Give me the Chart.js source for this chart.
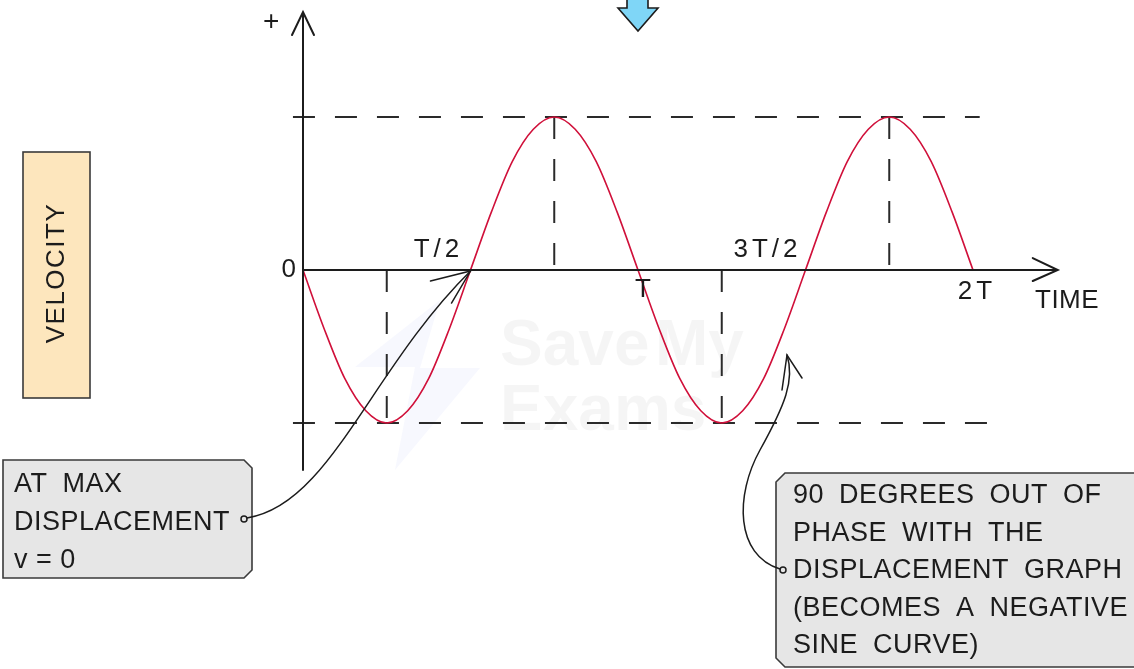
<!DOCTYPE html>
<html>
<head>
<meta charset="utf-8">
<script src="https://cdn.jsdelivr.net/npm/chart.js@4"></script>
<style>
  body { margin: 0; background: #fff; }
  #wrap { width: 1134px; height: 669px; position: relative; }
</style>
</head>
<body>
<div id="wrap"><canvas id="myChart"></canvas></div>
<script>
// time in units of the period T, velocity in units of max velocity
const timeT = [0, 0.0625, 0.125, 0.1875, 0.25, 0.3125, 0.375, 0.4375, 0.5,
  0.5625, 0.625, 0.6875, 0.75, 0.8125, 0.875, 0.9375, 1,
  1.0625, 1.125, 1.1875, 1.25, 1.3125, 1.375, 1.4375, 1.5,
  1.5625, 1.625, 1.6875, 1.75, 1.8125, 1.875, 1.9375, 2];
const velocity = [0, -0.38, -0.71, -0.92, -1, -0.92, -0.71, -0.38, 0,
  0.38, 0.71, 0.92, 1, 0.92, 0.71, 0.38, 0,
  -0.38, -0.71, -0.92, -1, -0.92, -0.71, -0.38, 0,
  0.38, 0.71, 0.92, 1, 0.92, 0.71, 0.38, 0];

const tickNames = ['0', 'T/2', 'T', '3T/2', '2T'];
const tickValues = [0, 0.5, 1, 1.5, 2];

// extremes marked with dashed guide lines
const peakTimes = [0.75, 1.75];
const troughTimes = [0.25, 1.25];

const boxLeft = ['AT MAX', 'DISPLACEMENT', 'v = 0'];
const boxRight = ['90 DEGREES OUT OF', 'PHASE WITH THE', 'DISPLACEMENT GRAPH',
  '(BECOMES A NEGATIVE', 'SINE CURVE)'];

const FONT = '"Liberation Sans", Arial, sans-serif';
const INK = '#1c1c1c';

function guide(points) {
  return {
    data: points,
    borderColor: '#2a2a2a',
    borderWidth: 2,
    borderDash: [22, 20],
    pointRadius: 0,
    fill: false,
    tension: 0
  };
}

const datasets = [
  {
    label: 'velocity',
    data: timeT.map((t, i) => ({x: t, y: velocity[i]})),
    borderColor: '#d0103a',
    borderWidth: 1.6,
    pointRadius: 0,
    fill: false,
    cubicInterpolationMode: 'monotone'
  },
  guide([{x: -0.03, y: 1}, {x: 2.02, y: 1}]),
  guide([{x: -0.03, y: -1}, {x: 2.08, y: -1}])
];
peakTimes.forEach(t => datasets.push(guide([{x: t, y: 1}, {x: t, y: 0}])));
troughTimes.forEach(t => datasets.push(guide([{x: t, y: 0}, {x: t, y: -1}])));

function openArrow(ctx, tx, ty, ax, ay, bx, by) {
  ctx.beginPath();
  ctx.moveTo(ax, ay);
  ctx.lineTo(tx, ty);
  ctx.lineTo(bx, by);
  ctx.stroke();
}

function noteBox(ctx, x0, y0, x1, y1, cut, side) {
  ctx.beginPath();
  if (side === 'right') {
    ctx.moveTo(x0, y0);
    ctx.lineTo(x1 - cut, y0);
    ctx.lineTo(x1, y0 + cut);
    ctx.lineTo(x1, y1 - cut);
    ctx.lineTo(x1 - cut, y1);
    ctx.lineTo(x0, y1);
  } else {
    ctx.moveTo(x1, y0);
    ctx.lineTo(x0 + cut, y0);
    ctx.lineTo(x0, y0 + cut);
    ctx.lineTo(x0, y1 - cut);
    ctx.lineTo(x0 + cut, y1);
    ctx.lineTo(x1, y1);
  }
  ctx.closePath();
  ctx.fillStyle = '#e6e6e6';
  ctx.fill();
  ctx.strokeStyle = '#3a3a3a';
  ctx.lineWidth = 1.6;
  ctx.stroke();
}

const sketch = {
  id: 'sketch',
  beforeDatasetsDraw(chart) {
    const ctx = chart.ctx;
    ctx.save();
    // watermark
    ctx.fillStyle = 'rgba(0,0,0,0.04)';
    ctx.font = 'bold 64px ' + FONT;
    ctx.textBaseline = 'alphabetic';
    ctx.fillText('Save', 500, 365);
    ctx.fillText('My', 655, 365);
    ctx.fillText('Exams', 500, 430);
    ctx.fillStyle = 'rgba(90,110,230,0.05)';
    ctx.beginPath();
    ctx.moveTo(440, 300); ctx.lineTo(355, 367); ctx.lineTo(415, 367);
    ctx.lineTo(395, 470); ctx.lineTo(480, 368); ctx.lineTo(420, 368);
    ctx.closePath();
    ctx.fill();
    ctx.restore();
  },
  afterDraw(chart) {
    const ctx = chart.ctx;
    const xs = chart.scales.x, ys = chart.scales.y;
    const ox = xs.getPixelForValue(0), oy = ys.getPixelForValue(0);
    const top = chart.chartArea.top, bottom = chart.chartArea.bottom;
    const right = chart.chartArea.right;
    ctx.save();
    ctx.strokeStyle = INK;
    ctx.lineWidth = 2;
    ctx.lineCap = 'round';
    // axes
    ctx.beginPath();
    ctx.moveTo(ox, bottom); ctx.lineTo(ox, top);
    ctx.moveTo(ox, oy); ctx.lineTo(right, oy);
    ctx.stroke();
    openArrow(ctx, ox, top - 3, ox - 11, top + 20, ox + 11, top + 20);
    openArrow(ctx, right + 1, oy, right - 24, oy - 12, right - 24, oy + 11);

    // tick labels
    ctx.fillStyle = INK;
    ctx.font = '26px ' + FONT;
    ctx.textBaseline = 'middle';
    ctx.letterSpacing = '4px';
    const offs = [[-3, 0, 'right'], [-32, -20, 'center'], [7, 20, 'center'],
      [-38, -20, 'center'], [4, 22, 'center']];
    tickNames.forEach((n, i) => {
      const px = xs.getPixelForValue(tickValues[i]);
      ctx.textAlign = offs[i][2];
      ctx.fillText(n, px + offs[i][0], oy + offs[i][1]);
    });
    ctx.textAlign = 'left';
    ctx.letterSpacing = '0.5px';
    ctx.fillText('TIME', 1035, 301);
    ctx.font = '28px ' + FONT;
    ctx.fillText('+', 263, 22);
    ctx.font = '26px ' + FONT;

    // velocity label
    ctx.fillStyle = '#fde6bd';
    ctx.fillRect(23, 152, 67, 246);
    ctx.strokeStyle = '#3a3a3a';
    ctx.lineWidth = 1.6;
    ctx.strokeRect(23, 152, 67, 246);
    ctx.save();
    ctx.translate(57, 273);
    ctx.rotate(-Math.PI / 2);
    ctx.fillStyle = INK;
    ctx.textAlign = 'center';
    ctx.letterSpacing = '1.5px';
    ctx.fillText('VELOCITY', 0, 0);
    ctx.restore();

    // blue arrow at top
    ctx.beginPath();
    ctx.moveTo(627, -2); ctx.lineTo(648, -2); ctx.lineTo(648, 8);
    ctx.lineTo(658, 8); ctx.lineTo(638, 31); ctx.lineTo(618, 8);
    ctx.lineTo(627, 8); ctx.closePath();
    ctx.fillStyle = '#7fd6f7';
    ctx.fill();
    ctx.strokeStyle = INK;
    ctx.lineWidth = 1.6;
    ctx.stroke();

    // note boxes
    noteBox(ctx, 3, 460, 252, 578, 8, 'right');
    noteBox(ctx, 776, 473, 1150, 667, 9, 'left');
    ctx.fillStyle = INK;
    ctx.textAlign = 'left';
    ctx.font = '27px ' + FONT;
    ctx.letterSpacing = '0.5px';
    ctx.wordSpacing = '7px';
    boxLeft.forEach((s, i) => {
      ctx.wordSpacing = s.startsWith('v') ? '0px' : '7px';
      ctx.fillText(s, 14, 485 + i * 38);
    });
    ctx.wordSpacing = '7px';
    boxRight.forEach((s, i) => ctx.fillText(s, 793, 496 + i * 37.5));
    ctx.wordSpacing = '0px';

    // pointer curves
    ctx.strokeStyle = INK;
    ctx.lineWidth = 1.5;
    const t1x = xs.getPixelForValue(0.5);
    ctx.beginPath();
    ctx.moveTo(247, 518);
    ctx.bezierCurveTo(330, 505, 370, 370, t1x, oy + 1);
    ctx.stroke();
    openArrow(ctx, t1x, oy + 1, t1x - 40, oy + 11, t1x - 19, oy + 33);
    ctx.beginPath();
    ctx.arc(244, 519, 3, 0, Math.PI * 2);
    ctx.stroke();

    ctx.beginPath();
    ctx.moveTo(780, 569);
    ctx.bezierCurveTo(735, 555, 735, 495, 760, 450);
    ctx.bezierCurveTo(785, 405, 795, 380, 787, 355);
    ctx.stroke();
    openArrow(ctx, 787, 355, 782, 390, 802, 378);
    ctx.beginPath();
    ctx.arc(783, 570, 3, 0, Math.PI * 2);
    ctx.stroke();
    ctx.restore();
  }
};

const ctx = document.getElementById('myChart').getContext('2d');
const myChart = new Chart(ctx, {
  type: 'line',
  data: {datasets: datasets},
  options: {
    responsive: true,
    maintainAspectRatio: false,
    animation: false,
    layout: {padding: {left: 286.25, right: 77.25, top: 15, bottom: 199}},
    plugins: {legend: {display: false}, tooltip: {enabled: false}},
    scales: {
      x: {type: 'linear', min: -0.05, max: 2.25, display: false},
      y: {type: 'linear', min: -1.307, max: 1.667, display: false}
    }
  },
  plugins: [sketch]
});
</script>
</body>
</html>
